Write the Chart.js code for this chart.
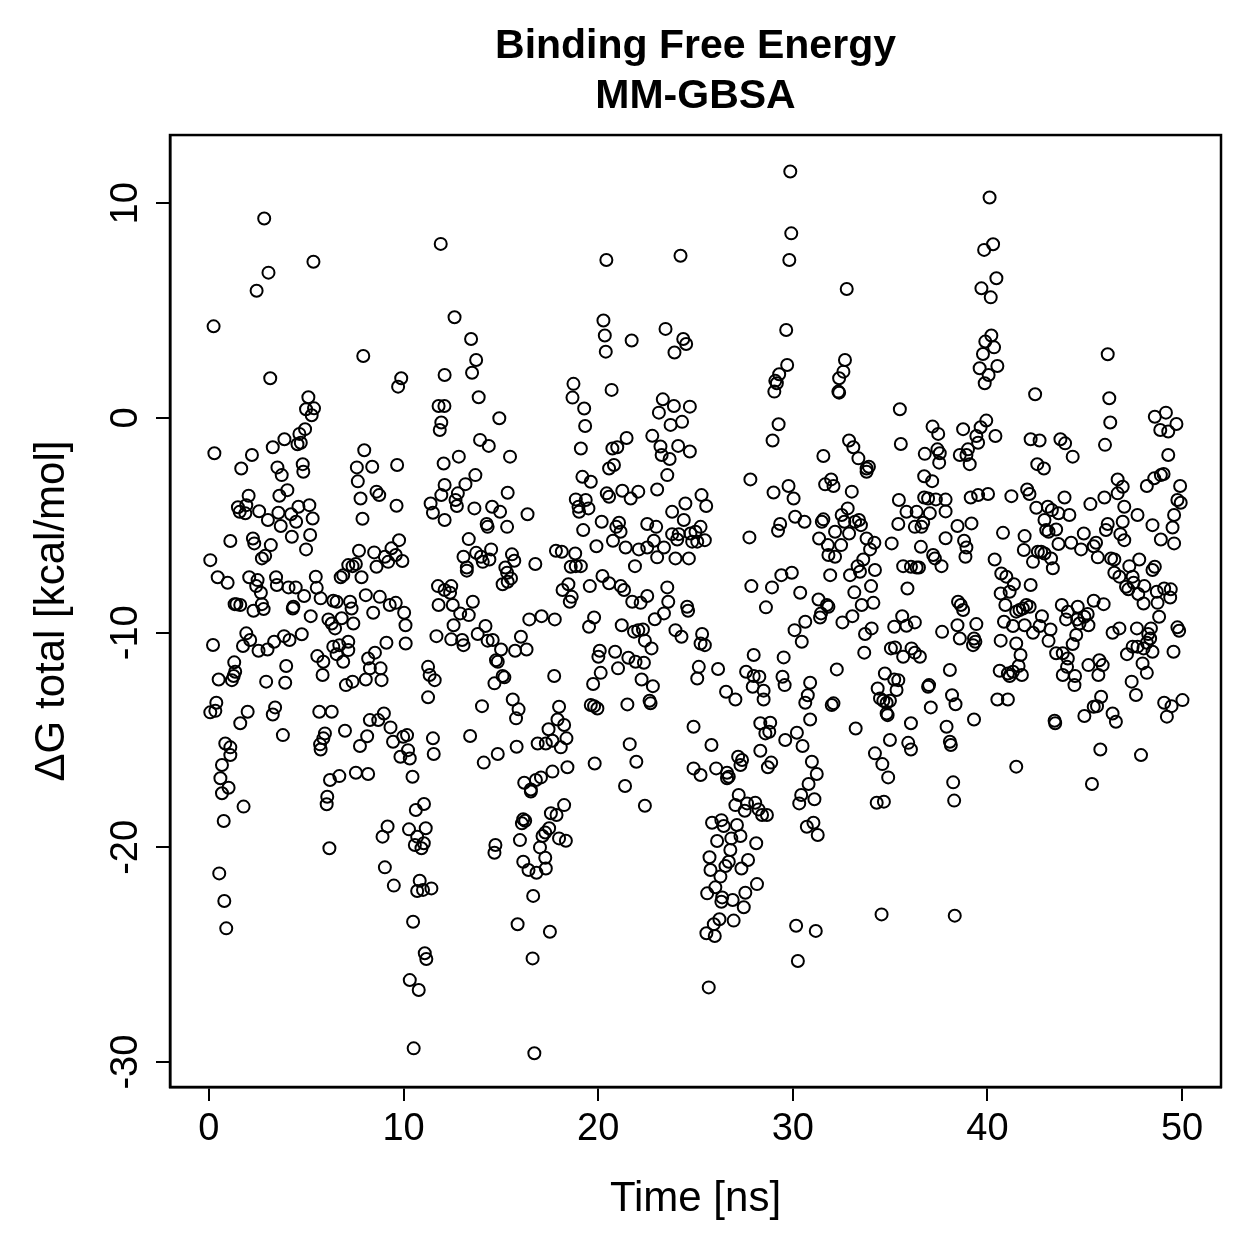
<!DOCTYPE html>
<html><head><meta charset="utf-8">
<script src="https://cdn.jsdelivr.net/npm/chart.js@4.4.1/dist/chart.umd.min.js"></script>
<style>html,body{margin:0;padding:0;background:#fff;}canvas{display:block;}</style>
</head><body>
<canvas id="c" width="1259" height="1259"></canvas>
<script>
const chartTitle = ['Binding Free Energy', 'MM-GBSA'];
const xLabel = 'Time [ns]';
const yLabel = '\u0394G total [kcal/mol]';
const xTicks = [0, 10, 20, 30, 40, 50];
const yTicks = [-30, -20, -10, 0, 10];
const xRange = [-2, 52];
const yRange = [-31.16, 13.18];

// [time (ns), dG total (kcal/mol)] samples, grouped by time window / energy band
const dG_0to12ns_high = [[2.84,9.29],[5.37,7.28],[3.06,6.77],[2.45,5.93],[0.24,4.27],[11.91,8.11],[7.93,2.89],[9.88,1.85],[9.72,1.46],[3.15,1.85],[12.11,2.0],[5.11,0.97],[4.99,0.41],[5.40,0.45],[5.28,0.13],[4.94,-0.52],[4.65,-0.74],[4.55,-1.22],[4.72,-1.15],[3.88,-0.99],[3.28,-1.36],[2.21,-1.72],[0.28,-1.64],[7.98,-1.50],[11.80,0.56],[12.10,0.56],[11.94,-0.21],[11.86,-0.56]];
const dG_0to12ns_mid = [[1.66,-2.35],[3.52,-2.30],[3.74,-2.66],[4.82,-2.15],[4.85,-2.50],[7.60,-2.30],[8.39,-2.27],[9.67,-2.19],[7.65,-2.95],[12.06,-2.12],[12.11,-3.12],[11.94,-3.59],[2.04,-3.62],[4.03,-3.36],[3.62,-3.62],[1.49,-4.16],[1.58,-4.37],[1.92,-4.06],[1.87,-4.44],[2.58,-4.34],[3.03,-4.75],[3.57,-4.41],[3.69,-5.03],[4.22,-4.48],[4.48,-4.83],[4.60,-4.13],[5.16,-4.06],[5.33,-4.68],[4.26,-5.53],[5.20,-5.45],[4.99,-6.12],[7.79,-3.75],[8.61,-3.43],[8.75,-3.59],[9.64,-4.09],[7.89,-4.69],[11.39,-3.98],[11.51,-4.41],[12.11,-4.75],[1.10,-5.73],[2.26,-5.61],[2.33,-5.84],[3.18,-5.92],[2.72,-6.54],[2.89,-6.42],[0.07,-6.62],[7.71,-6.18],[8.49,-6.26],[9.38,-6.07],[9.77,-5.69],[9.04,-6.46],[9.21,-6.70],[9.60,-6.38],[9.94,-6.66],[8.61,-6.93],[7.16,-6.85],[7.38,-6.90],[7.55,-6.80],[6.90,-7.32],[6.77,-7.42],[7.84,-7.42],[0.45,-7.42],[0.96,-7.67],[2.07,-7.42],[2.50,-7.55],[2.43,-7.83],[2.67,-8.14],[3.45,-7.42],[3.49,-7.78],[4.09,-7.89],[4.46,-7.89],[4.89,-8.29],[5.49,-7.39],[5.54,-7.91],[5.74,-8.40],[6.39,-8.51],[6.56,-8.56],[7.25,-8.56],[7.33,-8.87],[8.06,-8.25],[8.78,-8.33],[9.29,-8.71],[9.60,-8.61],[10.03,-9.07],[10.10,-9.65],[11.77,-7.83],[12.11,-8.01],[11.80,-8.71],[8.44,-9.07],[1.32,-8.67],[1.41,-8.67],[1.61,-8.71],[2.29,-8.98],[2.72,-8.67],[2.81,-8.90],[4.34,-8.79],[4.31,-8.87],[5.23,-9.23],[6.14,-9.38],[6.31,-9.57],[6.48,-9.80],[6.82,-9.33],[7.42,-9.57],[1.92,-10.03],[2.12,-10.34],[1.75,-10.62],[2.55,-10.84],[3.01,-10.78],[3.35,-10.42],[3.86,-10.16],[4.14,-10.34],[4.77,-10.07],[0.21,-10.57],[6.39,-10.65],[6.70,-10.58],[7.16,-10.42],[7.16,-10.81],[6.56,-11.0],[6.90,-11.35],[9.12,-10.47],[10.11,-10.50],[11.69,-10.16],[5.57,-11.09],[5.88,-11.35],[5.84,-11.97],[8.18,-11.20],[8.53,-10.93],[8.27,-11.66],[8.82,-11.66],[8.87,-12.21],[8.06,-12.18],[7.38,-12.28],[7.04,-12.44],[1.30,-11.38],[1.35,-11.82],[1.27,-12.02],[1.18,-12.21],[0.50,-12.18],[2.94,-12.28],[3.97,-11.55],[3.92,-12.33],[11.26,-11.59],[11.34,-11.97],[11.60,-12.21],[11.26,-13.01],[0.38,-13.26],[0.07,-13.71],[0.33,-13.64],[1.61,-14.22],[1.99,-13.68],[3.40,-13.48],[3.28,-13.81],[5.67,-13.68],[6.31,-13.68],[6.99,-14.57],[5.96,-14.69],[5.88,-14.92],[5.71,-15.20],[5.74,-15.44],[3.80,-14.77],[8.27,-14.07],[8.70,-14.07],[8.99,-13.76],[9.33,-14.41],[8.13,-14.82],[7.76,-15.28],[9.98,-14.85],[10.18,-14.77],[9.46,-15.08],[10.23,-15.47],[11.51,-14.92],[11.55,-15.65],[9.84,-15.78],[10.32,-15.86],[0.84,-15.16],[1.10,-15.34],[1.10,-15.70]];
const dG_0to12ns_low = [[0.67,-16.16],[0.59,-16.78],[1.01,-17.22],[0.67,-17.48],[1.78,-18.10],[0.76,-18.77],[0.53,-21.21],[0.79,-22.50],[0.89,-23.77],[6.22,-16.86],[6.70,-16.68],[7.55,-16.52],[8.18,-16.58],[6.08,-17.64],[6.05,-17.99],[6.19,-20.04],[10.46,-16.71],[11.05,-17.98],[10.63,-18.26],[9.18,-19.03],[8.92,-19.50],[10.28,-19.16],[11.14,-19.11],[10.70,-19.50],[11.04,-19.81],[10.58,-19.89],[10.92,-20.04],[9.04,-20.93],[9.50,-21.78],[10.83,-21.55],[10.70,-22.03],[11.00,-21.98],[11.43,-21.91],[10.49,-23.46],[11.09,-24.93],[11.17,-25.20],[10.32,-26.18],[10.78,-26.64],[10.52,-29.36]];
const dG_12to25ns_high = [[20.42,7.36],[24.23,7.56],[12.62,4.69],[13.47,3.68],[13.73,2.70],[13.52,2.11],[13.86,0.97],[14.92,-0.01],[13.93,-1.02],[14.38,-1.30],[12.84,-1.80],[15.47,-1.80],[20.27,4.54],[20.34,3.84],[20.39,3.09],[21.72,3.61],[23.46,4.15],[24.37,3.68],[24.52,3.45],[23.92,3.05],[18.73,1.59],[18.68,0.95],[19.28,0.44],[19.33,-0.37],[20.69,1.31],[19.11,-1.42],[20.73,-1.42],[20.98,-1.36],[21.46,-0.93],[22.78,-0.83],[23.32,0.87],[23.12,0.25],[23.89,0.56],[24.71,0.53],[23.72,-0.32],[24.31,-0.18],[23.20,-1.33],[24.11,-1.30],[24.71,-1.56],[23.26,-1.72],[23.67,-1.91]];
const dG_12to25ns_mid = [[13.69,-2.66],[13.18,-3.08],[12.79,-3.51],[12.67,-3.82],[12.74,-4.10],[13.64,-4.21],[14.55,-4.13],[14.96,-4.37],[15.35,-3.48],[16.37,-4.48],[14.27,-4.94],[14.32,-5.07],[15.32,-5.07],[13.35,-5.64],[13.08,-6.46],[13.25,-6.96],[13.25,-7.11],[13.73,-6.28],[13.98,-6.46],[14.07,-6.70],[14.50,-6.12],[14.41,-6.59],[15.57,-6.35],[15.69,-6.65],[15.23,-6.96],[15.32,-7.21],[15.52,-7.47],[15.35,-7.63],[15.09,-7.74],[16.77,-6.80],[17.83,-6.18],[18.13,-6.23],[18.82,-6.31],[18.59,-6.93],[18.85,-6.90],[19.11,-6.90],[18.47,-7.74],[18.17,-8.01],[18.64,-8.33],[18.54,-8.56],[19.57,-7.83],[20.22,-7.36],[20.56,-7.70],[21.16,-7.83],[21.33,-8.01],[21.75,-8.56],[22.18,-8.61],[22.52,-8.29],[23.55,-7.89],[23.60,-8.56],[23.38,-9.10],[22.91,-9.37],[24.57,-8.79],[24.62,-8.98],[12.45,-7.83],[12.39,-8.14],[12.53,-8.71],[13.56,-8.56],[12.91,-9.10],[13.35,-9.18],[12.57,-9.65],[12.45,-10.31],[13.01,-10.34],[13.08,-10.58],[13.81,-10.06],[14.21,-9.69],[14.32,-10.37],[14.58,-10.34],[15.01,-10.78],[15.73,-10.84],[16.03,-10.19],[16.32,-10.78],[14.75,-11.28],[14.84,-11.35],[15.09,-12.02],[15.18,-12.08],[14.67,-12.36],[16.46,-9.38],[17.09,-9.23],[17.77,-9.38],[17.74,-12.02],[14.03,-13.42],[13.42,-14.81],[15.61,-13.11],[15.91,-13.57],[15.78,-13.99],[14.84,-15.65],[15.81,-15.31],[17.99,-13.45],[17.91,-14.04],[18.25,-14.30],[17.45,-14.50],[18.37,-14.92],[16.89,-15.16],[17.31,-15.16],[17.65,-15.03],[18.08,-15.34],[19.19,-2.74],[19.62,-2.97],[20.56,-2.35],[20.81,-2.19],[23.55,-2.66],[23.03,-3.33],[21.24,-3.39],[21.67,-3.75],[22.06,-3.43],[20.44,-3.51],[20.56,-3.67],[18.85,-3.79],[19.36,-3.82],[18.99,-4.13],[19.02,-4.37],[19.50,-4.21],[19.23,-5.22],[20.18,-4.83],[21.07,-4.88],[20.93,-5.07],[21.15,-5.30],[19.91,-5.97],[20.76,-5.72],[21.41,-6.03],[22.09,-6.12],[22.52,-6.03],[22.86,-5.72],[22.52,-4.94],[22.98,-5.07],[23.38,-6.03],[23.03,-6.49],[23.97,-6.54],[24.66,-6.54],[24.48,-3.98],[23.80,-4.37],[24.40,-4.75],[23.80,-5.41],[24.14,-5.41],[24.74,-5.38],[24.06,-5.66],[24.83,-5.76],[21.89,-6.90],[19.79,-9.29],[19.53,-9.72],[21.21,-9.65],[21.84,-9.95],[22.06,-9.88],[22.30,-9.85],[22.40,-10.37],[22.74,-10.73],[23.97,-9.88],[24.28,-10.19],[20.08,-10.84],[20.01,-11.12],[20.87,-10.89],[21.55,-11.17],[21.92,-11.35],[22.35,-11.40],[20.13,-11.87],[21.02,-11.66],[19.74,-12.39],[22.23,-12.18],[22.81,-12.49],[22.64,-13.17],[22.69,-13.29],[19.62,-13.37],[19.79,-13.42],[19.96,-13.53],[21.50,-13.34],[24.90,-14.38],[21.62,-15.19]];
const dG_12to25ns_low = [[14.12,-16.05],[19.82,-16.09],[21.96,-16.01],[24.90,-16.32],[18.42,-16.27],[17.65,-16.47],[17.06,-16.74],[16.80,-16.86],[16.20,-16.99],[16.54,-17.30],[16.54,-17.40],[21.38,-17.14],[22.40,-18.06],[18.25,-18.03],[17.57,-18.41],[17.86,-18.49],[16.15,-18.69],[16.25,-18.76],[16.08,-18.88],[17.48,-19.11],[17.28,-19.31],[17.14,-19.47],[15.98,-19.66],[17.99,-19.58],[18.34,-19.69],[14.72,-19.89],[14.67,-20.25],[17.01,-20.0],[17.28,-20.48],[16.15,-20.67],[16.42,-21.05],[16.83,-21.18],[17.31,-20.98],[16.66,-22.26],[15.86,-23.58],[17.52,-23.93],[16.63,-25.17],[16.72,-29.59]];
const dG_25to38ns_high = [[29.87,11.48],[29.92,8.60],[29.82,7.36],[32.77,6.01],[29.66,4.10],[29.71,2.47],[29.30,2.04],[29.10,1.73],[29.18,1.62],[29.05,1.23],[32.68,2.70],[32.60,2.16],[32.38,1.85],[32.34,1.23],[32.38,1.18],[35.50,0.41],[29.27,-0.29],[28.96,-1.05],[35.55,-1.21],[32.89,-1.05],[33.11,-1.36],[31.57,-1.77],[33.37,-1.88],[37.18,-0.40],[37.47,-0.74],[36.78,-1.67],[37.43,-1.46],[37.55,-1.64]];
const dG_25to38ns_mid = [[33.79,-2.35],[33.91,-2.27],[33.79,-2.50],[37.52,-2.08],[27.82,-2.86],[29.01,-3.47],[29.78,-3.17],[30.04,-3.75],[31.66,-3.09],[31.97,-2.86],[32.09,-3.17],[33.03,-3.43],[25.31,-3.59],[25.55,-4.10],[25.26,-5.07],[25.00,-5.30],[25.48,-5.69],[25.09,-5.76],[30.12,-4.60],[30.60,-4.83],[29.35,-4.94],[29.24,-5.25],[27.77,-5.56],[31.57,-4.72],[31.49,-4.83],[31.35,-5.61],[32.17,-5.30],[32.51,-4.52],[32.82,-4.21],[32.65,-4.83],[33.20,-4.83],[33.40,-4.75],[33.50,-4.99],[32.89,-5.38],[32.48,-5.92],[31.80,-5.92],[31.83,-6.38],[32.17,-6.46],[33.79,-5.61],[34.19,-5.81],[33.97,-6.12],[33.62,-6.59],[33.33,-6.90],[34.22,-7.08],[33.45,-7.16],[32.94,-7.32],[31.92,-7.32],[35.45,-3.82],[35.84,-4.37],[36.36,-4.37],[36.75,-3.70],[36.95,-3.75],[37.35,-3.79],[36.75,-2.71],[37.16,-2.94],[37.04,-4.44],[35.42,-4.94],[36.27,-5.07],[36.61,-5.07],[36.70,-4.88],[35.08,-5.84],[36.58,-6.0],[37.21,-6.38],[37.30,-6.54],[37.64,-6.90],[35.67,-6.90],[36.07,-6.93],[36.36,-6.96],[36.48,-6.96],[35.89,-7.94],[29.41,-7.32],[29.95,-7.21],[27.87,-7.83],[28.93,-7.89],[28.62,-8.82],[30.38,-8.14],[31.32,-8.45],[31.75,-8.71],[31.83,-8.79],[31.45,-9.10],[31.40,-9.29],[30.64,-9.49],[30.09,-9.88],[30.46,-10.42],[32.55,-9.52],[33.06,-9.23],[33.54,-8.71],[34.14,-8.61],[33.16,-8.12],[34.02,-7.83],[34.05,-9.80],[33.71,-10.06],[33.67,-10.93],[35.62,-9.23],[35.21,-9.72],[35.84,-9.68],[36.27,-9.52],[37.67,-9.96],[25.34,-10.06],[25.26,-10.50],[25.48,-10.58],[35.04,-10.73],[35.25,-10.69],[35.67,-11.12],[36.10,-10.73],[36.27,-10.93],[36.53,-11.12],[27.99,-11.04],[29.53,-11.15],[32.26,-11.71],[26.16,-11.69],[25.17,-11.59],[25.09,-12.13],[27.60,-11.82],[27.99,-12.02],[28.28,-12.05],[27.94,-12.52],[28.50,-12.70],[28.50,-13.11],[29.47,-12.05],[29.58,-12.44],[26.57,-12.75],[27.05,-13.11],[30.89,-12.33],[30.77,-12.91],[30.64,-13.26],[32.00,-13.37],[32.09,-13.29],[34.73,-11.90],[35.21,-12.18],[35.42,-12.21],[35.33,-12.67],[34.36,-12.60],[34.48,-13.06],[34.65,-13.17],[34.82,-13.26],[34.99,-13.17],[34.82,-13.76],[34.87,-13.84],[36.95,-12.52],[37.00,-12.44],[37.09,-13.48],[36.07,-14.22],[25.82,-15.23],[28.33,-14.22],[28.84,-14.19],[28.59,-14.69],[28.79,-14.61],[29.61,-15.0],[30.21,-14.66],[30.89,-14.04],[30.50,-15.28],[28.33,-15.50],[33.23,-14.46],[34.99,-15.0],[35.93,-15.13],[36.07,-15.44]];
const dG_25to38ns_low = [[25.26,-16.63],[26.06,-16.32],[26.62,-16.52],[26.71,-16.71],[26.62,-16.78],[27.31,-16.16],[27.39,-15.93],[27.19,-15.78],[28.72,-16.27],[28.89,-16.05],[30.98,-16.01],[31.23,-16.58],[30.81,-17.05],[30.43,-17.56],[30.33,-17.95],[31.11,-17.76],[30.72,-19.04],[31.06,-18.85],[31.28,-19.42],[34.22,-15.62],[34.60,-16.12],[34.90,-16.74],[34.31,-17.92],[34.68,-17.87],[34.56,-23.12],[27.22,-17.56],[27.05,-18.03],[27.65,-17.95],[27.53,-18.29],[28.07,-17.92],[28.24,-18.23],[28.42,-18.49],[28.67,-18.49],[25.85,-18.85],[26.33,-18.73],[26.45,-19.0],[27.13,-18.96],[26.84,-19.58],[27.31,-19.47],[26.11,-19.70],[28.12,-19.81],[26.79,-20.12],[25.72,-20.46],[26.71,-20.67],[25.77,-21.05],[26.54,-20.87],[27.36,-20.98],[27.70,-20.59],[26.28,-21.36],[26.02,-21.86],[25.60,-22.14],[26.37,-22.33],[26.33,-22.53],[26.91,-22.45],[27.56,-22.11],[28.16,-21.71],[27.48,-22.79],[26.23,-23.35],[25.94,-23.58],[26.96,-23.41],[25.56,-24.0],[25.99,-24.13],[30.17,-23.65],[31.18,-23.89],[30.26,-25.29],[25.68,-26.52]];
const dG_38to50ns_high = [[40.11,10.27],[39.83,7.83],[40.29,8.09],[40.46,6.51],[39.69,6.04],[40.17,5.62],[40.20,3.84],[39.89,3.56],[40.34,3.29],[39.77,2.98],[39.60,2.32],[40.51,2.42],[40.06,2.0],[39.86,1.62],[42.45,1.11],[46.18,2.97],[46.26,0.92],[46.31,-0.21],[46.04,-1.25],[39.94,-0.12],[39.65,-0.43],[39.43,-0.84],[39.52,-1.15],[40.41,-0.84],[38.75,-0.52],[39.0,-1.46],[38.58,-1.72],[38.92,-1.72],[42.22,-0.99],[42.68,-1.05],[43.75,-0.99],[43.99,-1.18],[44.38,-1.80],[48.60,0.06],[49.17,0.25],[49.71,-0.28],[48.88,-0.56],[49.29,-0.63],[49.29,-1.72]];
const dG_38to50ns_mid = [[39.09,-2.15],[42.56,-2.15],[42.90,-2.35],[46.69,-2.86],[46.95,-3.20],[46.69,-3.51],[48.19,-3.17],[48.57,-2.81],[48.91,-2.66],[49.05,-2.61],[49.90,-3.17],[49.76,-3.82],[49.93,-3.95],[49.59,-4.52],[49.51,-5.10],[48.91,-5.66],[49.59,-5.84],[48.48,-4.99],[47.71,-4.52],[47.03,-4.13],[46.01,-3.70],[45.29,-4.01],[43.96,-3.70],[44.21,-4.52],[43.65,-4.44],[43.31,-4.29],[43.10,-4.13],[42.51,-4.18],[42.93,-4.75],[43.02,-5.22],[43.14,-5.30],[43.53,-5.19],[43.65,-5.87],[44.30,-5.81],[44.81,-6.12],[44.95,-5.38],[45.46,-5.97],[45.58,-5.81],[45.67,-6.49],[46.09,-5.22],[46.18,-4.94],[46.95,-4.83],[46.83,-5.41],[47.03,-5.69],[46.35,-6.54],[46.52,-6.59],[46.52,-7.21],[46.78,-7.39],[47.29,-6.90],[47.80,-6.59],[48.48,-7.08],[48.60,-6.93],[47.46,-7.39],[47.51,-7.67],[47.12,-7.86],[47.24,-7.98],[48.06,-7.83],[47.75,-8.20],[48.02,-8.64],[48.70,-8.09],[49.08,-7.94],[49.42,-7.98],[49.39,-8.36],[48.74,-8.61],[48.82,-9.26],[48.40,-9.80],[48.26,-10.06],[48.36,-10.27],[48.19,-10.47],[47.68,-9.80],[48.02,-10.73],[48.48,-10.89],[47.71,-10.65],[47.46,-10.65],[47.17,-11.0],[47.97,-11.43],[48.19,-11.87],[47.41,-12.28],[47.63,-12.90],[49.56,-10.89],[49.76,-9.75],[49.85,-9.91],[46.43,-10.0],[46.78,-9.80],[45.97,-8.67],[45.46,-8.51],[45.15,-9.13],[45.19,-9.65],[44.73,-9.57],[44.64,-8.79],[44.98,-9.26],[44.61,-9.38],[44.13,-9.02],[43.82,-8.71],[44.04,-9.38],[44.56,-10.11],[44.38,-10.53],[43.24,-9.85],[43.14,-10.38],[42.80,-9.23],[42.68,-9.69],[42.34,-10.0],[41.91,-9.65],[41.31,-9.69],[40.85,-9.49],[42.22,-7.78],[42.0,-8.71],[41.82,-8.87],[41.65,-8.94],[41.48,-9.02],[42.17,-8.79],[40.92,-8.71],[40.68,-8.17],[41.14,-8.09],[41.36,-7.74],[40.97,-7.39],[40.71,-7.24],[40.37,-6.59],[40.80,-5.35],[41.91,-5.50],[41.87,-6.15],[42.34,-6.70],[42.59,-6.23],[42.76,-6.23],[42.93,-6.31],[43.27,-6.54],[43.36,-7.0],[41.23,-3.64],[42.04,-3.33],[42.16,-3.54],[40.03,-3.54],[39.52,-3.59],[39.14,-3.70],[37.85,-3.80],[37.85,-4.35],[38.46,-5.03],[39.18,-4.91],[37.85,-5.60],[38.80,-5.72],[38.92,-6.03],[38.87,-6.46],[38.49,-8.56],[38.63,-8.71],[38.75,-8.94],[38.46,-9.65],[39.43,-9.60],[38.58,-10.27],[39.31,-10.27],[39.38,-10.42],[39.26,-10.58],[40.68,-10.37],[41.48,-10.50],[41.70,-11.04],[41.60,-11.55],[41.77,-11.97],[40.63,-11.77],[41.05,-11.90],[41.14,-12.02],[41.31,-11.82],[38.07,-11.74],[38.18,-12.91],[38.36,-13.33],[39.31,-14.04],[40.51,-13.11],[41.05,-13.11],[37.90,-14.38],[38.07,-15.08],[38.12,-15.23],[43.53,-10.96],[43.87,-10.96],[44.13,-11.20],[44.09,-11.59],[43.87,-11.97],[44.50,-12.02],[44.47,-12.44],[45.19,-11.51],[45.75,-11.28],[45.92,-11.51],[45.70,-11.97],[43.45,-14.10],[43.48,-14.22],[44.98,-13.88],[45.46,-13.45],[45.63,-13.42],[45.84,-12.98],[46.43,-13.76],[46.60,-14.15],[49.08,-13.26],[49.46,-13.42],[50.02,-13.14],[49.22,-13.91],[45.80,-15.44],[47.89,-15.70]];
const dG_38to50ns_low = [[41.48,-16.24],[38.24,-16.97],[38.29,-17.82],[38.32,-23.18],[45.37,-17.05]];

const allSamples = [].concat(
  dG_0to12ns_high, dG_0to12ns_mid, dG_0to12ns_low,
  dG_12to25ns_high, dG_12to25ns_mid, dG_12to25ns_low,
  dG_25to38ns_high, dG_25to38ns_mid, dG_25to38ns_low,
  dG_38to50ns_high, dG_38to50ns_mid, dG_38to50ns_low
);

const FONT = "'Liberation Sans', Arial, Helvetica, sans-serif";

const frameBox = {
  id: 'frameBox',
  afterDraw(chart) {
    const {ctx, chartArea: a} = chart;
    ctx.save();
    ctx.strokeStyle = '#000';
    ctx.lineWidth = 2.5;
    ctx.strokeRect(a.left, a.top, a.right - a.left, a.bottom - a.top);
    ctx.restore();
  }
};

new Chart(document.getElementById('c'), {
  type: 'scatter',
  data: {
    datasets: [{
      data: allSamples.map(p => ({x: p[0], y: p[1]})),
      pointStyle: 'circle',
      pointRadius: 6,
      pointHoverRadius: 6,
      borderColor: '#000',
      backgroundColor: 'rgba(0,0,0,0)',
      borderWidth: 2
    }]
  },
  options: {
    responsive: false,
    animation: false,
    devicePixelRatio: 1,
    layout: {padding: {left: 0, right: 38, top: 0, bottom: 0}},
    plugins: {
      legend: {display: false},
      tooltip: {enabled: false},
      title: {
        display: true, text: chartTitle, fullSize: false, color: '#000',
        font: {family: FONT, size: 41, weight: 'bold', lineHeight: 1.22},
        padding: {top: 22, bottom: 13}
      }
    },
    scales: {
      x: {
        type: 'linear', position: 'bottom', min: xRange[0], max: xRange[1],
        afterBuildTicks: s => { s.ticks = xTicks.map(v => ({value: v})); },
        afterFit: s => { s.height = 172; },
        grid: {display: true, drawOnChartArea: false, drawTicks: true, tickLength: 14, color: '#000', lineWidth: 2},
        border: {display: true, color: '#000', width: 2.5},
        ticks: {color: '#000', font: {family: FONT, size: 38}, padding: 6, minRotation: 0, maxRotation: 0, autoSkip: false},
        title: {display: true, text: xLabel, color: '#000', font: {family: FONT, size: 42}, padding: {top: 0, bottom: 34}}
      },
      y: {
        type: 'linear', position: 'left', min: yRange[0], max: yRange[1],
        afterBuildTicks: s => { s.ticks = yTicks.map(v => ({value: v})); },
        afterFit: s => { s.width = 170; },
        grid: {display: true, drawOnChartArea: false, drawTicks: true, tickLength: 14, color: '#000', lineWidth: 2},
        border: {display: true, color: '#000', width: 2.5},
        ticks: {color: '#000', font: {family: FONT, size: 38}, padding: 2, minRotation: 90, maxRotation: 90, crossAlign: 'center', autoSkip: false},
        title: {display: true, text: yLabel, color: '#000', font: {family: FONT, size: 42}, padding: {top: 27, bottom: 0}}
      }
    }
  },
  plugins: [frameBox]
});
</script>
</body></html>
